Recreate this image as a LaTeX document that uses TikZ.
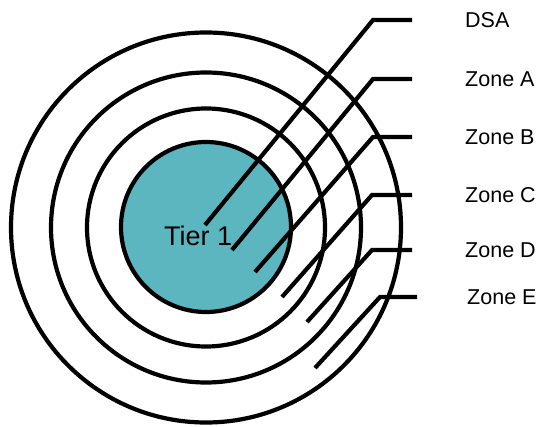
\documentclass[tikz,border=0pt]{standalone}
\usepackage{fontspec}
\setmainfont{Liberation Sans}
\definecolor{tierfill}{RGB}{91,182,192}
\begin{document}
\begin{tikzpicture}[x=1pt,y=-1pt,
  ring/.style={circle,draw=black,line width=4.2pt,inner sep=0pt},
  leader/.style={draw=black,line width=4.2pt,line join=miter},
  zonelabel/.style={anchor=west,inner sep=0pt,font=\fontsize{21.5}{25}\selectfont}]
\useasboundingbox (0,0) rectangle (537,427);

% concentric zones around the Tier 1 core
\node[ring,minimum size=390pt] (zonee) at (206,227.5) {};
\node[ring,minimum size=310pt] (zoned) at (206,227.5) {};
\node[ring,minimum size=238pt] (zonec) at (206,227.5) {};
\node[ring,fill=tierfill,minimum size=170pt] (tier) at (206,227) {};
\node[anchor=base west,inner sep=0pt,font=\fontsize{27}{30}\selectfont] (tiertext) at (164,245.5) {Tier 1};

% leader end points: inner end, bend, outer end
\coordinate (dsaend) at (205,225);   \coordinate (dsabend) at (373,20);  \coordinate (dsatip) at (412,20);
\coordinate (aend) at (232,250);     \coordinate (abend) at (373,79);    \coordinate (atip) at (412,79);
\coordinate (bend_) at (255,272);    \coordinate (bbend) at (373,137);   \coordinate (btip) at (412,137);
\coordinate (cend) at (282,297);     \coordinate (cbend) at (372,195);   \coordinate (ctip) at (412,195);
\coordinate (dend) at (307,322);     \coordinate (dbend) at (372,250);   \coordinate (dtip) at (412,250);
\coordinate (eend) at (315,368);     \coordinate (ebend) at (380,297);   \coordinate (etip) at (417,297);

\draw[leader] (dsaend) -- (dsabend) -- (dsatip);
\draw[leader] (aend) -- (abend) -- (atip);
\draw[leader] (bend_) -- (bbend) -- (btip);
\draw[leader] (cend) -- (cbend) -- (ctip);
\draw[leader] (dend) -- (dbend) -- (dtip);
\draw[leader] (eend) -- (ebend) -- (etip);

% labels
\node[zonelabel] (ldsa) at (465,20) {DSA};
\node[zonelabel] (la) at (465,79) {Zone A};
\node[zonelabel] (lb) at (465,137) {Zone B};
\node[zonelabel] (lc) at (465,195) {Zone C};
\node[zonelabel] (ld) at (465,250) {Zone D};
\node[zonelabel] (le) at (467,297) {Zone E};
\end{tikzpicture}
\end{document}
